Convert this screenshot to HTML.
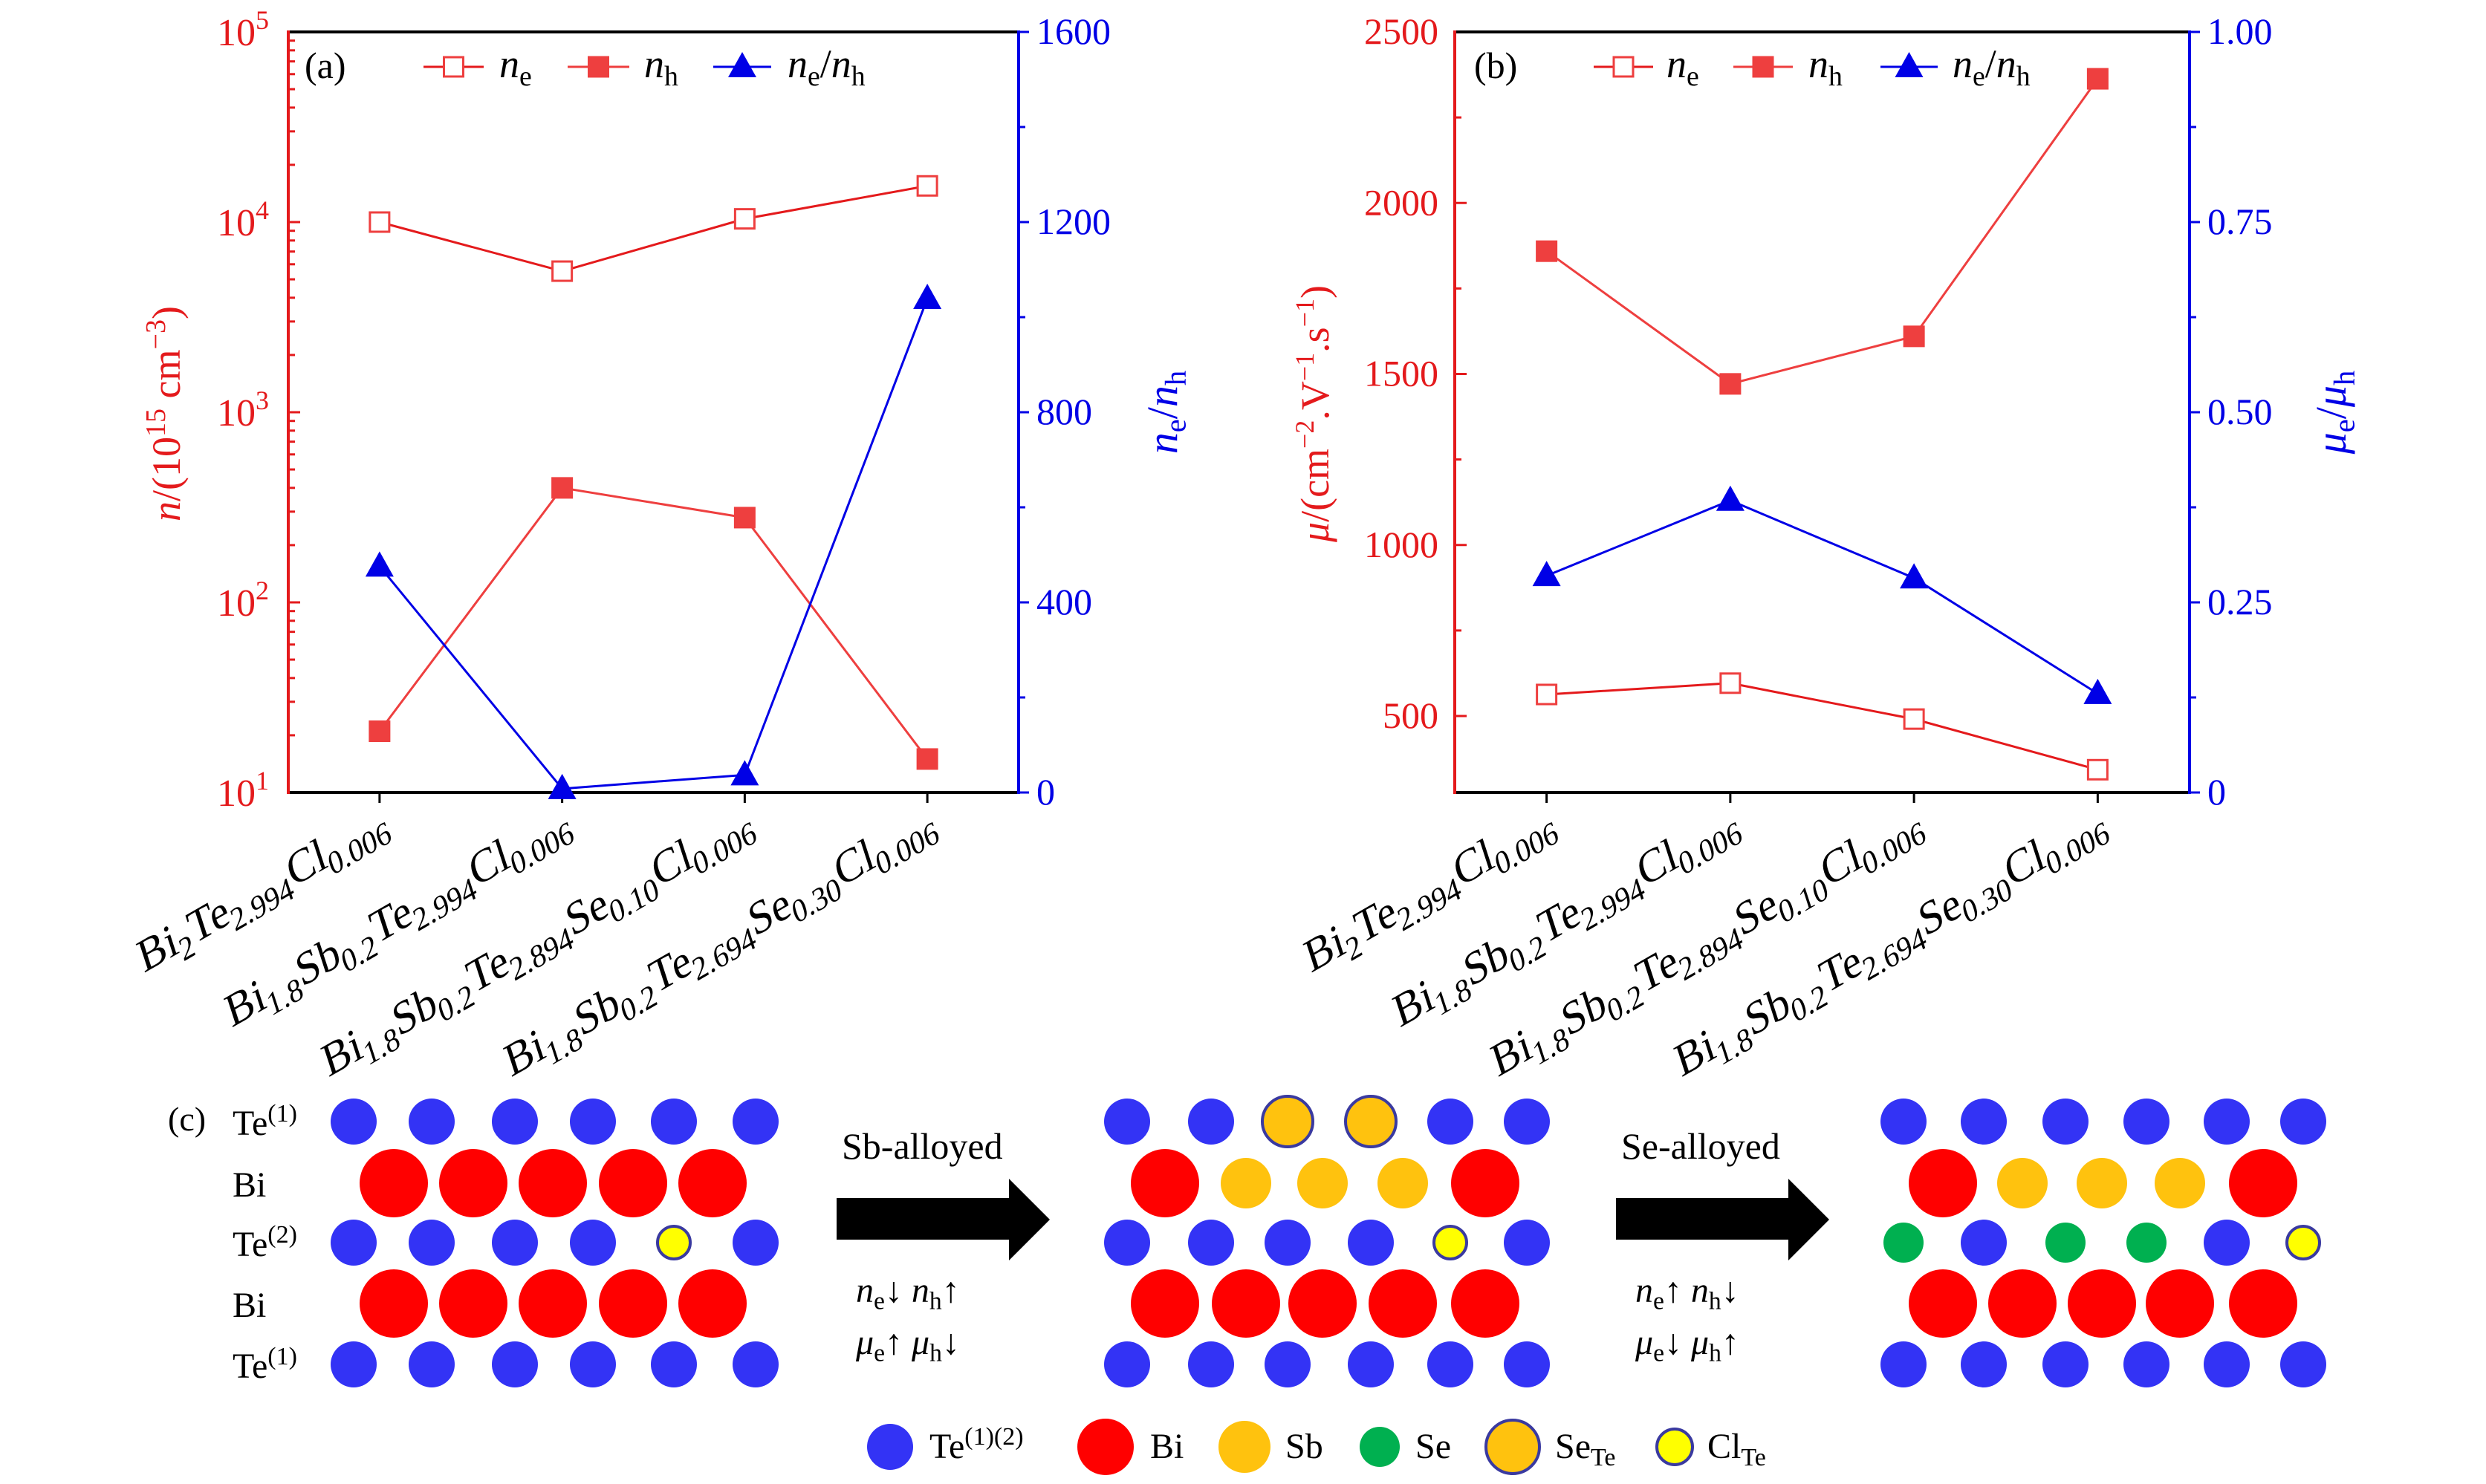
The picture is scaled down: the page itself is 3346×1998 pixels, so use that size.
<!DOCTYPE html>
<html><head><meta charset="utf-8"><style>
html,body{margin:0;padding:0;background:#fff;}
svg{display:block;font-family:"Liberation Serif",serif;}
</style></head><body>
<svg id="fig" width="3346" height="1998" viewBox="0 0 3346 1998" xmlns="http://www.w3.org/2000/svg">
<g id="pa"></g>
<g id="pb"></g>
<g id="pc"></g>
</svg>
<script>
// ---------- data ----------
const categories = ["Bi2Te2.994Cl0.006","Bi1.8Sb0.2Te2.994Cl0.006","Bi1.8Sb0.2Te2.894Se0.10Cl0.006","Bi1.8Sb0.2Te2.694Se0.30Cl0.006"];
const nE = [10000, 5520, 10400, 15500];
const nH = [21, 400, 279, 15];
const nRatio = [476, 8, 37, 1039];
const muE = [563, 596, 491, 343];
const muH = [1859, 1471, 1610, 2363];
const muRatio = [0.285, 0.384, 0.282, 0.130];
const ticksB = [500, 1000, 1500, 2000, 2500];
const ticksA2 = [0, 400, 800, 1200, 1600];
const ticksB2 = ["0", "0.25", "0.50", "0.75", "1.00"];

const NS = "http://www.w3.org/2000/svg";
const RED = "#e41a1c", RED2 = "#ee3f3f", BLUE = "#0000e6";
function mk(tag, attrs, parent){
  const e = document.createElementNS(NS, tag);
  for (const k in attrs) e.setAttribute(k, attrs[k]);
  if (parent) parent.appendChild(e);
  return e;
}
function tspan(parent, txt, opts){
  const t = mk("tspan", opts || {}, parent);
  t.textContent = txt;
  return t;
}
function formula(t, s, fs){
  const parts = s.match(/[A-Z][a-z]?|[0-9.]+/g);
  parts.forEach(p => {
    if (/^[0-9.]/.test(p)) {
      tspan(t, p, {"font-size": fs*0.7, "dy": fs*0.22});
      tspan(t, "\u200b", {"dy": -fs*0.22});
    } else tspan(t, p);
  });
}

function panel(g, left, right, top, bottom, yLeft, yRight, cfg){
  const W = right - left;
  const xs = i => left + (i + 0.5) * W / 4;
  let e;
  e = mk("line", {x1:left, y1:top, x2:right, y2:top, stroke:"#000", "stroke-width":4}, g);
   
  e = mk("line", {x1:left, y1:bottom, x2:right, y2:bottom, stroke:"#000", "stroke-width":4}, g);
   
  e = mk("line", {x1:left, y1:top-2, x2:left, y2:bottom+2, stroke:RED, "stroke-width":4}, g);
   
  e = mk("line", {x1:right, y1:top-2, x2:right, y2:bottom+2, stroke:BLUE, "stroke-width":4}, g);
   
  categories.forEach((c, i) => {
    const x = xs(i);
    const tk = mk("line", {x1:x, y1:bottom, x2:x, y2:bottom+14, stroke:"#000", "stroke-width":3}, g);
     
    const ax = x+14, ay = bottom+52;
    const t = mk("text", {x:0, y:0, "text-anchor":"end", "font-size":60,
      transform:`translate(${ax} ${ay}) rotate(-30) skewX(-12)`}, g);
     
    formula(t, c, 60);
  });
  cfg.leftTicks(g);
  cfg.rightTicks(g);
  function series(vals, yf, color, marker, name, lw){
    const pts = vals.map((v, i) => [xs(i), yf(v)]);
    const pl = mk("polyline", {points: pts.map(p => p.join(",")).join(" "), fill:"none", stroke:color, "stroke-width":lw}, g);
     
    pts.forEach(p => drawMarker(g, p[0], p[1], marker, name + '-point'));
  }
  series(cfg.s1, yLeft, RED, "open", cfg.n1, 3);
  series(cfg.s2, yLeft, RED2, "filled", cfg.n2, 3);
  series(cfg.s3, yRight, BLUE, "tri", cfg.n3, 3);
}
function drawMarker(g, x, y, type, name){
  let m;
  if (type === "open") m = mk("rect", {x:x-13, y:y-13, width:26, height:26, fill:"#fff", stroke:RED2, "stroke-width":3}, g);
  else if (type === "filled") m = mk("rect", {x:x-14, y:y-14, width:28, height:28, fill:RED2, stroke:RED2, "stroke-width":1}, g);
  else m = mk("polygon", {points:`${x},${y-20} ${x-19},${y+14} ${x+19},${y+14}`, fill:BLUE}, g);
   
}
function legend(g, items, y){
  items.forEach(it => {
    const l = mk("line", {x1:it.x0, y1:y, x2:it.x1, y2:y, stroke:it.c, "stroke-width":3}, g);
     
    drawMarker(g, (it.x0+it.x1)/2, y, it.m, 'legend-marker');
    const t = mk("text", {x:it.tx, y:y+14, "font-size":54}, g);
     
    it.txt(t);
  });
}
function sub(t, main, s, fs){ tspan(t, main, {"font-style":"italic"}); tspan(t, s, {"font-size":fs*0.7, dy:fs*0.2}); tspan(t, "\u200b", {dy:-fs*0.2}); }

// ---------- panel A ----------
(function(){
  const g = document.getElementById("pa");
  const L=388, R=1371, T=43, B=1067;
  const yL = v => B - (Math.log10(v) - 1) / 4 * (B - T);
  const yR = v => B - v / 1600 * (B - T);
  panel(g, L, R, T, B, yL, yR, {
    s1:nE, s2:nH, s3:nRatio, n1:"ne", n2:"nh", n3:"ne-nh-ratio",
    leftTicks: g => {
      for (let d = 1; d <= 5; d++) {
        const y = yL(Math.pow(10, d));
        if (d>1 && d<5) { const tk = mk("line", {x1:L, y1:y, x2:L+16, y2:y, stroke:RED, "stroke-width":3}, g);
            }
        const t = mk("text", {x:L-26, y:y+18, "text-anchor":"end", "font-size":52, fill:RED}, g);
         
        tspan(t, "10"); tspan(t, String(d), {"font-size":36, dy:-22});
        if (d < 5) for (let k = 2; k <= 9; k++) {
          const yy = yL(k * Math.pow(10, d));
          const mt = mk("line", {x1:L, y1:yy, x2:L+9, y2:yy, stroke:RED, "stroke-width":3}, g);
           
        }
      }
    },
    rightTicks: g => {
      for (let v = 0; v <= 1600; v += 200) {
        const y = yR(v), major = v % 400 === 0;
        const tk = mk("line", {x1:R, y1:y, x2:R+(major?14:9), y2:y, stroke:BLUE, "stroke-width":3}, g);
         
      }
      ticksA2.forEach(v => {
        const t = mk("text", {x:R+24, y:yR(v)+16, "font-size":50, fill:BLUE}, g);
         
        t.textContent = v;
      });
    }
  });
  let t = mk("text", {x:242, y:557, "text-anchor":"middle", "font-size":54, fill:RED, transform:"rotate(-90 242 557)"}, g);
   
  tspan(t, "n", {"font-style":"italic"}); tspan(t, "/(10"); tspan(t, "15", {"font-size":38, dy:-20}); tspan(t, " cm", {dy:20}); tspan(t, "\u22123", {"font-size":38, dy:-20}); tspan(t, ")", {dy:20});
  t = mk("text", {x:1584, y:555, "text-anchor":"middle", "font-size":58, fill:BLUE, transform:"rotate(-90 1584 555)"}, g);
   
  sub(t, "n", "e", 58); tspan(t, "/"); sub(t, "n", "h", 58);
  t = mk("text", {x:410, y:105, "font-size":50}, g);
    t.textContent = "(a)";
  legend(g, [
    {x0:570, x1:651, tx:672, c:RED, m:"open", txt:t=>sub(t,"n","e",54)},
    {x0:764, x1:847, tx:867, c:RED2, m:"filled", txt:t=>sub(t,"n","h",54)},
    {x0:960, x1:1038, tx:1060, c:BLUE, m:"tri", txt:t=>{sub(t,"n","e",54); tspan(t,"/"); sub(t,"n","h",54);}}
  ], 90);
})();

// ---------- panel B ----------
(function(){
  const g = document.getElementById("pb");
  const L=1958, R=2947, T=43, B=1067;
  const yL = v => 43 + (2500 - v) / 2000 * 921;
  const yR = v => B - v * (B - T);
  panel(g, L, R, T, B, yL, yR, {
    s1:muE, s2:muH, s3:muRatio, n1:"mu-e", n2:"mu-h", n3:"mu-ratio",
    leftTicks: g => {
      for (let v = 500; v <= 2500; v += 250) {
        const y = yL(v), major = v % 500 === 0;
        if (v < 2500) { const tk = mk("line", {x1:L, y1:y, x2:L+(major?16:9), y2:y, stroke:RED, "stroke-width":3}, g);
            }
      }
      ticksB.forEach(v => {
        const t = mk("text", {x:L-22, y:yL(v)+16, "text-anchor":"end", "font-size":50, fill:RED}, g);
         
        t.textContent = v;
      });
    },
    rightTicks: g => {
      for (let k = 0; k <= 8; k++) {
        const y = yR(k/8), major = k % 2 === 0;
        const tk = mk("line", {x1:R, y1:y, x2:R+(major?14:9), y2:y, stroke:BLUE, "stroke-width":3}, g);
         
      }
      ticksB2.forEach(s => {
        const t = mk("text", {x:R+24, y:yR(parseFloat(s))+16, "font-size":50, fill:BLUE}, g);
         
        t.textContent = s;
      });
    }
  });
  let t = mk("text", {x:1788, y:557, "text-anchor":"middle", "font-size":54, fill:RED, transform:"rotate(-90 1788 557)"}, g);
   
  tspan(t, "\u03bc", {"font-style":"italic"}); tspan(t, "/(cm"); tspan(t, "\u22122", {"font-size":36, dy:-20}); tspan(t, ".V", {dy:20}); tspan(t, "\u22121", {"font-size":36, dy:-20}); tspan(t, ".s", {dy:20}); tspan(t, "\u22121", {"font-size":36, dy:-20}); tspan(t, ")", {dy:20});
  t = mk("text", {x:3157, y:555, "text-anchor":"middle", "font-size":58, fill:BLUE, transform:"rotate(-90 3157 555)"}, g);
   
  sub(t, "\u03bc", "e", 58); tspan(t, "/"); sub(t, "\u03bc", "h", 58);
  t = mk("text", {x:1984, y:105, "font-size":50}, g);
    t.textContent = "(b)";
  legend(g, [
    {x0:2145, x1:2225, tx:2243, c:RED, m:"open", txt:t=>sub(t,"n","e",54)},
    {x0:2333, x1:2413, tx:2434, c:RED2, m:"filled", txt:t=>sub(t,"n","h",54)},
    {x0:2531, x1:2608, tx:2628, c:BLUE, m:"tri", txt:t=>{sub(t,"n","e",54); tspan(t,"/"); sub(t,"n","h",54);}}
  ], 90);
})();

// ---------- panel C ----------
(function(){
  const g = document.getElementById("pc");
  const C = {T:"#3333f5", B:"#ff0000", S:"#ffc20e", G:"#00b050", E:"#ffc20e", L:"#ffff00"};
  const R = {T:31, B:46, S:34, G:27, E:34, L:22};
  const rowsY = [1510, 1593, 1673, 1755, 1837];
  function atom(x, y, k){
    const c = mk("circle", {cx:x, cy:y, r:R[k], fill:C[k]}, g);
    if (k === "E" || k === "L") { c.setAttribute("stroke", "#3a3aa0"); c.setAttribute("stroke-width", 4); }
    
    
  }
  const blocks = [
    {te:[476,581,693,798,907,1017], bi:[530,637,744,852,959],
     r:["TTTTTT","BBBBB","TTTTLT","BBBBB","TTTTTT"]},
    {te:[1517,1630,1733,1845,1952,2055], bi:[1568,1677,1780,1888,1999],
     r:["TTEETT","BSSSB","TTTTLT","BBBBB","TTTTTT"]},
    {te:[2562,2670,2780,2889,2997,3100], bi:[2615,2722,2829,2934,3046],
     r:["TTTTTT","BSSSB","GTGGTL","BBBBB","TTTTTT"]}
  ];
  blocks.forEach(b => b.r.forEach((row, ri) => {
    const xs = row.length === 6 ? b.te : b.bi;
    [...row].forEach((k, i) => atom(xs[i], rowsY[ri], k));
  }));
  const labels = [["Te","(1)"],["Bi",""],["Te","(2)"],["Bi",""],["Te","(1)"]];
  labels.forEach((l, i) => {
    const t = mk("text", {x:313, y:rowsY[i]+18, "font-size":48}, g);
     
    tspan(t, l[0]); if (l[1]) tspan(t, l[1], {"font-size":34, dy:-18});
  });
  let t = mk("text", {x:226, y:1522, "font-size":46}, g);
    t.textContent = "(c)";
  [[0,"Sb-alloyed","\u2193","\u2191","\u2191","\u2193"],[1049,"Se-alloyed","\u2191","\u2193","\u2193","\u2191"]].forEach(a => {
    const o = a[0];
    const p = mk("polygon", {points:`${1126+o},1613 ${1358+o},1613 ${1358+o},1587 ${1413+o},1642 ${1358+o},1697 ${1358+o},1669 ${1126+o},1669`, fill:"#000"}, g);
     
    let tt = mk("text", {x:1133+o, y:1560, "font-size":50}, g);
      tt.textContent = a[1];
    tt = mk("text", {x:1152+o, y:1753, "font-size":48}, g);
     
    sub(tt, "n", "e", 48); tspan(tt, a[2] + "  "); sub(tt, "n", "h", 48); tspan(tt, a[3]);
    tt = mk("text", {x:1152+o, y:1823, "font-size":48}, g);
     
    sub(tt, "\u03bc", "e", 48); tspan(tt, a[4] + "  "); sub(tt, "\u03bc", "h", 48); tspan(tt, a[5]);
  });
  const leg = [[1198,"T",31,1251,"Te","(1)(2)",1],[1488,"B",38,1548,"Bi","",0],[1675,"S",35,1730,"Sb","",0],
               [1857,"G",27,1905,"Se","",0],[2036,"E",36,2093,"Se","Te",2],[2254,"L",24,2298,"Cl","Te",2]];
  leg.forEach(l => {
    const c = mk("circle", {cx:l[0], cy:1948, r:l[2], fill:C[l[1]]}, g);
    if (l[1]==="E"||l[1]==="L") { c.setAttribute("stroke","#3a3aa0"); c.setAttribute("stroke-width",4); }
     
    const tt = mk("text", {x:l[3], y:1963, "font-size":48}, g);
     
    tspan(tt, l[4]);
    if (l[6]===1) tspan(tt, l[5], {"font-size":34, dy:-18});
    if (l[6]===2) tspan(tt, l[5], {"font-size":34, dy:10});
  });
})();
</script>
</body></html>
